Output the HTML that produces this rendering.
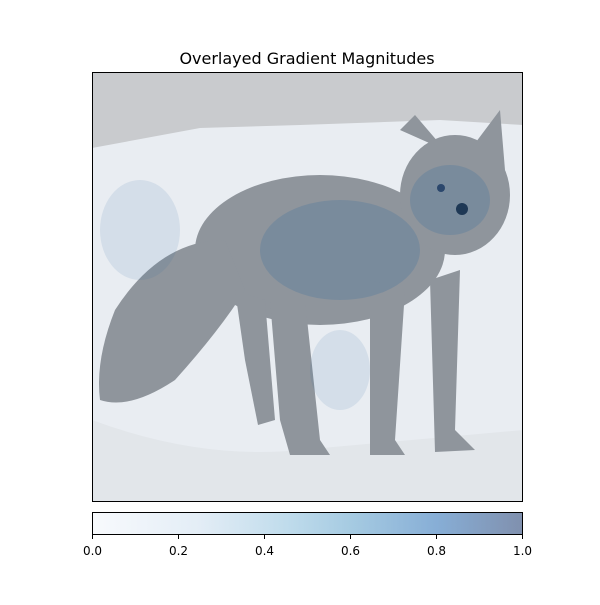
<!DOCTYPE html>
<html><head><meta charset="utf-8"><style>
body{margin:0;background:#fff;}
svg text{font-family:"DejaVu Sans","Liberation Sans",sans-serif;}
</style></head><body>
<svg width="600" height="600" viewBox="0 0 600 600" xmlns="http://www.w3.org/2000/svg">
<defs>
<linearGradient id="cb" x1="0" x2="1" y1="0" y2="0">
<stop offset="0" stop-color="#f8fafd"/>
<stop offset="0.25" stop-color="#e3edf6"/>
<stop offset="0.45" stop-color="#c0dcec"/>
<stop offset="0.6" stop-color="#a6cbe2"/>
<stop offset="0.8" stop-color="#87aed6"/>
<stop offset="1" stop-color="#8090ae"/>
</linearGradient>
<clipPath id="ax"><rect x="92" y="72" width="431" height="430"/></clipPath>
</defs>
<text x="307" y="64" font-size="16" text-anchor="middle">Overlayed Gradient Magnitudes</text>
<g clip-path="url(#ax)">
<rect x="92" y="72" width="431" height="430" fill="#e9edf2"/>
<path d="M92 72 H523 V125 L440 120 L300 125 L200 128 L92 148 Z" fill="#c9cbce"/>
<path d="M92 420 Q200 460 300 450 L523 430 V502 H92 Z" fill="#e2e6ea"/>
<g fill="#8f959c">
<ellipse cx="320" cy="250" rx="125" ry="75"/>
<ellipse cx="455" cy="195" rx="55" ry="60"/>
<path d="M400 130 L415 115 L445 150 Z"/>
<path d="M470 150 L500 110 L505 170 Z"/>
<path d="M225 240 Q160 240 115 310 Q95 360 100 400 Q130 410 175 380 Q220 330 245 290 Z"/>
<path d="M270 300 L305 300 L320 440 L330 455 L290 455 L280 420 Z"/>
<path d="M235 290 L265 300 L275 420 L258 425 L245 360 Z"/>
<path d="M370 280 L405 290 L395 440 L405 455 L370 455 Z"/>
<path d="M430 280 L460 270 L455 430 L475 450 L435 452 Z"/>
</g>
<circle cx="462" cy="209" r="6" fill="#1a2a40"/>
<circle cx="441" cy="188" r="4" fill="#2a3e5e"/>
<g fill="#2f6aa0" opacity="0.22">
<ellipse cx="340" cy="250" rx="80" ry="50"/>
<ellipse cx="450" cy="200" rx="40" ry="35"/>
<ellipse cx="140" cy="230" rx="40" ry="50" opacity="0.5"/>
<ellipse cx="340" cy="370" rx="30" ry="40" opacity="0.5"/>
</g>
</g>
<rect x="92.5" y="72.5" width="430" height="429" fill="none" stroke="#000"/>
<rect x="92.5" y="512.5" width="430" height="22" fill="url(#cb)" stroke="#000"/>
<g id="ticks"></g>
<script>
const tickValues=[0,0.2,0.4,0.6,0.8,1.0];
const tickLabels=["0.0","0.2","0.4","0.6","0.8","1.0"];
const g=document.getElementById('ticks');
const NS="http://www.w3.org/2000/svg";
function xs(v){return 92.5+v*430;}
tickValues.forEach((v,i)=>{
const l=document.createElementNS(NS,'line');
l.setAttribute('x1',xs(v));l.setAttribute('x2',xs(v));l.setAttribute('y1',535);l.setAttribute('y2',539);l.setAttribute('stroke','#000');


g.appendChild(l);
const t=document.createElementNS(NS,'text');
t.setAttribute('x',xs(v));t.setAttribute('y',555);t.setAttribute('font-size','12');t.setAttribute('text-anchor','middle');
t.textContent=tickLabels[i];


g.appendChild(t);
});
</script>
</svg>
</body></html>
